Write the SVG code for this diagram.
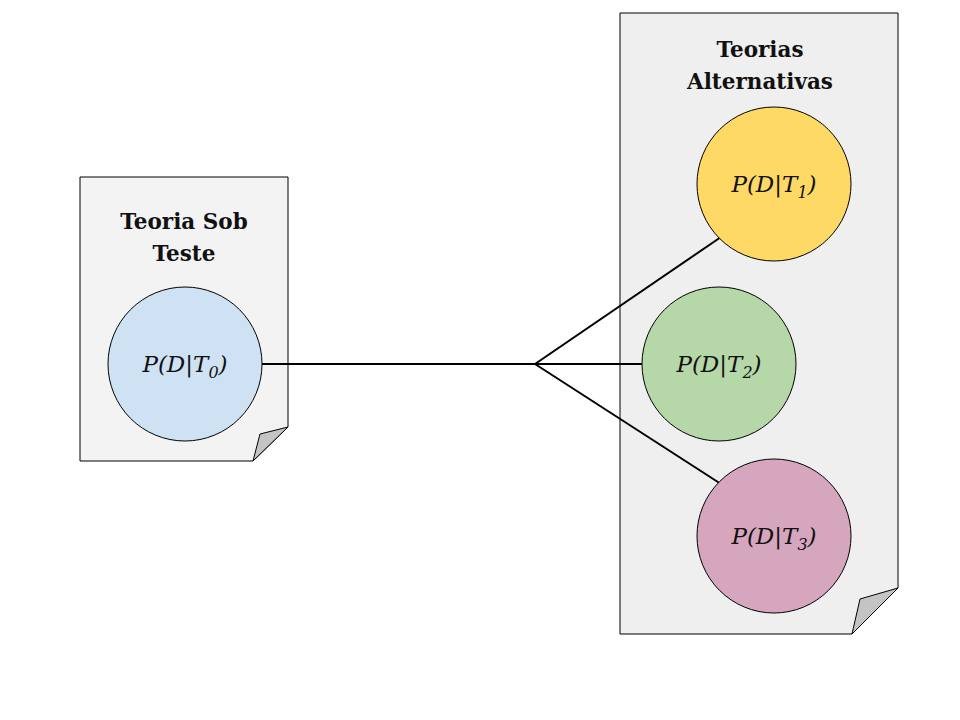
<svg xmlns="http://www.w3.org/2000/svg" width="960" height="720" viewBox="0 0 960 720">
<style>
.doc{stroke:#000;stroke-width:1}
.fold{fill:#c4c4c4;stroke:#000;stroke-width:1;stroke-linejoin:round}
.c{stroke:#000;stroke-width:1}
.t{font-family:"DejaVu Serif",serif;font-weight:bold;font-size:21.5px;text-anchor:middle;fill:#111}
.f{font-family:"DejaVu Serif",serif;font-style:italic;font-size:23px;text-anchor:middle;fill:#111}
.sub{font-size:16px}
.up{font-style:normal}
.e{fill:none;stroke:#000;stroke-width:2}
</style>
<rect width="960" height="720" fill="#fff"/>
<g id="doc-left">
<path class="doc" fill="#f3f3f3" d="M80,177 H288 V427 L253,461 H80 Z"/>
<path class="fold" d="M253,461 L260,434 L288,427 Z"/>
<text class="t" x="184" y="229">Teoria Sob</text>
<text class="t" x="184" y="261">Teste</text>
</g>
<g id="doc-right">
<path class="doc" fill="#efefef" d="M620,13 H898 V588 L852,634 H620 Z"/>
<path class="fold" d="M852,634 L860,599 L898,588 Z"/>
<text class="t" x="760" y="57">Teorias</text>
<text class="t" x="760" y="89">Alternativas</text>
</g>
<g id="connectors">
<line class="e" x1="262" y1="364" x2="535" y2="364"/>
<line class="e" x1="535" y1="364" x2="721" y2="237"/>
<line class="e" x1="535" y1="364" x2="642" y2="364"/>
<line class="e" x1="535" y1="364" x2="721" y2="484"/>
</g>
<g id="t0">
<circle class="c" cx="185" cy="364" r="77" fill="#cfe2f3"/>
<text class="f" x="185" y="372">P(D<tspan class="up">|</tspan>T<tspan class="sub" dy="6">0</tspan><tspan dy="-6">)</tspan></text>
</g>
<g id="t1">
<circle class="c" cx="774" cy="184" r="77" fill="#ffd966"/>
<text class="f" x="774" y="192">P(D<tspan class="up">|</tspan>T<tspan class="sub" dy="6">1</tspan><tspan dy="-6">)</tspan></text>
</g>
<g id="t2">
<circle class="c" cx="719" cy="364" r="77" fill="#b6d7a8"/>
<text class="f" x="719" y="372">P(D<tspan class="up">|</tspan>T<tspan class="sub" dy="6">2</tspan><tspan dy="-6">)</tspan></text>
</g>
<g id="t3">
<circle class="c" cx="774" cy="536" r="77" fill="#d5a6bd"/>
<text class="f" x="774" y="544">P(D<tspan class="up">|</tspan>T<tspan class="sub" dy="6">3</tspan><tspan dy="-6">)</tspan></text>
</g>
</svg>
